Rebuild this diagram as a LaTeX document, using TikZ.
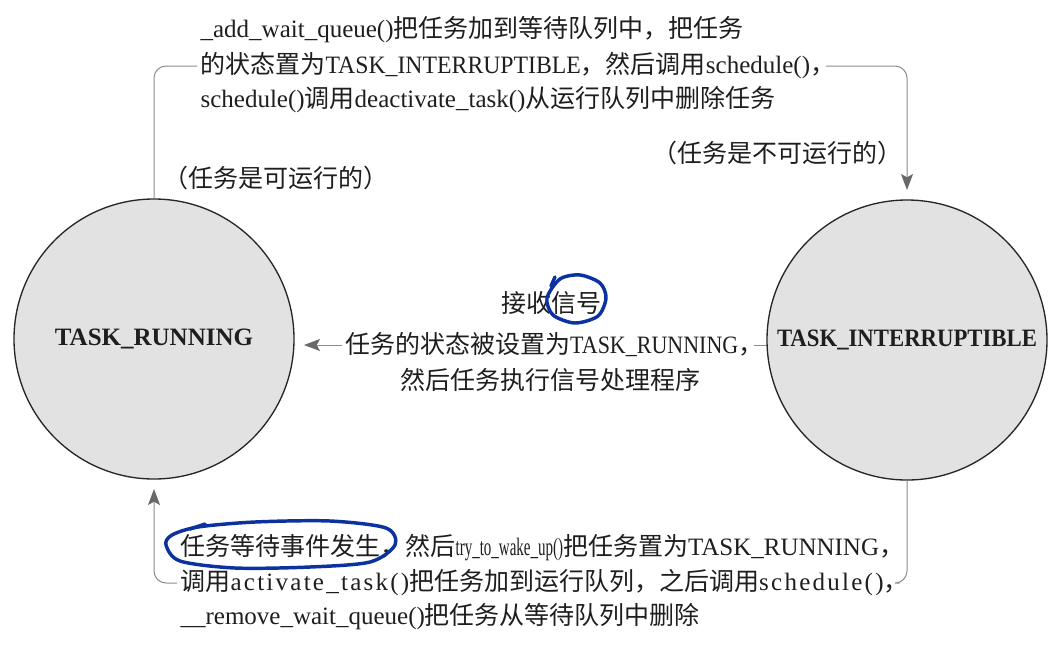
\documentclass[tikz,border=0pt]{standalone}
\usepackage{fontspec}
\usepackage{graphicx}
\setmainfont{Liberation Serif}
\newfontfamily\cjk{Noto Sans CJK SC}
\newcommand\zh[1]{{\cjk #1}}
\newcommand\hcomma{{\cjk\makebox[0.5em][l]{，}}}
\newcommand\spaced[1]{{\addfontfeature{LetterSpace=9}#1}}
\newcommand\squeezed[2]{\scalebox{#1}[1]{#2}}
\usetikzlibrary{arrows.meta}
\definecolor{annblue}{RGB}{12,50,160}
\definecolor{conngray}{RGB}{140,140,140}
\definecolor{tipgray}{RGB}{105,105,105}
\definecolor{statefill}{RGB}{226,226,226}
\definecolor{txt}{RGB}{30,30,30}
\begin{document}
\begin{tikzpicture}[x=0.75pt,y=-0.75pt,
 every node/.style={text=txt},
 state/.style={circle,draw=black!85,line width=1pt,fill=statefill,minimum size=210pt,inner sep=0pt,font=\fontsize{18.75}{22}\selectfont\bfseries},
 lbl/.style={inner sep=2.5pt,font=\fontsize{18.75}{22}\selectfont},
 conn/.style={draw=conngray,line width=0.75pt,rounded corners=9pt},
 arrowend/.style={-{Stealth[length=12pt,width=9pt,inset=2.5pt,color=tipgray]}, shorten >=7pt},
 ann/.style={draw=annblue,line width=2.6pt,line cap=round,line join=round}]

\useasboundingbox (0,0) rectangle (1060,644);

\node[state] (run) at (154,339) {TASK\_RUNNING};
\node[state] (intr) at (907,340) {\squeezed{0.91}{TASK\_INTERRUPTIBLE}};

\node[lbl,anchor=west] (top1) at (197,30) {\_add\_wait\_queue()\zh{把任务加到等待队列中，把任务}};
\node[lbl,anchor=west] (top2) at (197,66) {\zh{的状态置为}\squeezed{0.95}{TASK\_INTERRUPTIBLE}\zh{，然后调用}schedule()\hcomma};
\node[lbl,anchor=west] (top3) at (197,100) {schedule()\zh{调用}deactivate\_task()\zh{从运行队列中删除任务}};
\node[lbl,anchor=east] (lblR) at (906,153) {\zh{（任务是不可运行的）}};
\node[lbl,anchor=west] (lblL) at (160,178) {\zh{（任务是可运行的）}};

\node[lbl] (mid1) at (551,303) {\zh{接收信号}};
\node[lbl] (mid2) at (548,345) {\zh{任务的状态被设置为}\squeezed{0.88}{TASK\_RUNNING}\hcomma};
\node[lbl] (mid3) at (550,380) {\zh{然后任务执行信号处理程序}};

\node[lbl,anchor=west] (bot1) at (177,548) {\zh{任务等待事件发生，然后}\squeezed{0.6}{try\_to\_wake\_up()}\zh{把任务置为}TASK\_RUNNING\zh{，}};
\node[lbl,anchor=west] (bot2) at (177,583) {\zh{调用}\spaced{activate\_task()}\zh{把任务加到运行队列，之后调用}\spaced{schedule()}\hcomma};
\node[lbl,anchor=west] (bot3) at (177,617) {\_\_remove\_wait\_queue()\zh{把任务从等待队列中删除}};

% connectors
\draw[conn] (run.north) |- (top2.west);
\draw[conn,arrowend] (top2.east) -| (intr.north);
\draw[conn] (intr.west |- mid2.east) -- (mid2.east);
\draw[conn,arrowend] (mid2.west) -- (mid2.west -| run.east);
\draw[conn,arrowend] (bot2.west) -| (run.south);
\draw[conn] (bot2.east) -| (intr.south);

% hand-drawn annotation marks
\draw[ann] plot[smooth cycle] coordinates {(547,298) (553,315) (575,323) (598,316) (606,298) (600,283) (580,275) (560,279)};
\draw[ann] (551,286) -- (555,277);
\draw[ann] plot[smooth cycle] coordinates {(166,545) (180,561) (235,568) (310,567) (370,562) (395,545) (386,528) (330,521) (255,522) (198,527) (172,535)};
\draw[ann] (190,529) -- (205,524);
\end{tikzpicture}
\end{document}
